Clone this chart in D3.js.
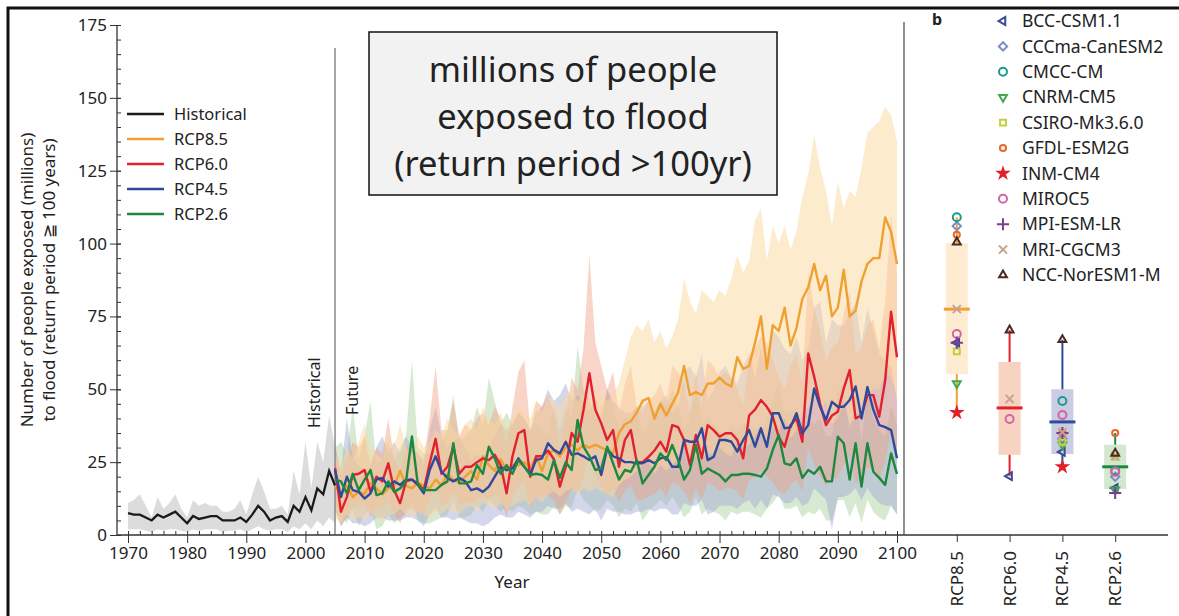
<!DOCTYPE html>
<html lang="en">
<head>
  <meta charset="UTF-8">
  <title>Flood exposure</title>
  <script src="https://d3js.org/d3.v7.min.js"></script>
  <style>
    body { margin: 0; background: #fff; }
    svg { display: block; }
    text { font-family: "Noto Sans", sans-serif; fill: #222; }
  </style>
</head>
<body>
  <div id="container"></div>
  <script>
    // ---- data ----
    var histYears = d3.range(1970, 2006);
    var histMean = [7.5, 7, 7, 6, 5, 7, 6, 7, 8, 6, 4, 6.5, 5.5, 6, 6.5, 6.5, 5, 5, 5, 6, 4.5, 7, 10, 8, 5, 6, 6.5, 4.5, 10, 8, 13, 8.5, 16, 14, 22, 17];
    var histHi = [11, 12, 14, 10, 6, 13, 9, 11, 14, 9, 6, 12, 10, 11, 10, 10, 8, 8, 9, 12, 7, 14, 20, 15, 9, 9, 10, 7, 22, 14, 32, 16, 32, 25, 41, 30];
    var histLo = [2, 2, 2, 1.5, 1, 2, 1.5, 2, 2, 1.5, 1, 2, 1.5, 2, 2, 2, 1, 1.5, 1.5, 2, 1, 2, 3, 2, 1.5, 2, 2, 1, 3, 2, 4, 2, 5, 3, 6, 4];

    var futYears = d3.range(2005, 2101);

    var rcp85 = [17, 14, 17, 13, 15, 14, 18, 16, 14, 16, 17, 22, 17, 16, 18, 17, 16, 19, 17, 21, 19, 18, 20, 22, 19, 27, 24, 22, 26, 22,
      24, 24, 25, 23, 27, 22, 28, 29, 27, 30, 31, 29, 31, 30, 31, 30, 29, 28, 35, 38, 39, 42, 46, 47, 40, 45, 41, 45, 49, 58,
      48, 49, 48, 52, 52, 54, 52, 51, 61, 57, 58, 66, 75, 57, 72, 70, 78, 65, 71, 81, 85, 93, 84, 89, 75, 78, 91, 75, 77, 87,
      93, 95, 95, 109, 104, 93];
    var rcp85Hi = [28, 24, 30, 26, 32, 38, 30, 28, 26, 34, 30, 38, 30, 28, 34, 30, 32, 36, 34, 40, 36, 34, 38, 40, 36, 44, 40, 38, 42, 36,
      40, 44, 42, 40, 46, 42, 48, 46, 44, 48, 50, 46, 48, 46, 50, 48, 46, 48, 52, 60, 68, 72, 70, 74, 66, 70, 64, 68, 74, 88,
      80, 76, 84, 82, 80, 84, 82, 88, 96, 90, 94, 108, 112, 94, 106, 100, 106, 98, 104, 116, 124, 137, 126, 118, 106, 121, 112, 118, 116, 126,
      138, 140, 142, 147, 144, 135];
    var rcp85Lo = [6, 4, 7, 5, 6, 5, 8, 6, 5, 7, 7, 9, 7, 6, 8, 7, 6, 8, 7, 9, 8, 7, 9, 10, 8, 11, 10, 9, 11, 9,
      10, 11, 12, 10, 13, 11, 14, 15, 13, 15, 16, 14, 16, 15, 16, 15, 14, 13, 17, 19, 20, 22, 24, 25, 21, 24, 22, 24, 26, 30,
      26, 27, 26, 28, 28, 30, 28, 27, 32, 30, 31, 34, 38, 30, 37, 36, 40, 33, 36, 42, 44, 48, 43, 46, 38, 40, 46, 38, 40, 45,
      48, 50, 50, 56, 54, 48];

    var rcp60 = [23, 8, 13, 20.6, 21, 22.3, 14.8, 20, 18.4, 24.6, 15.4, 10.9, 18.4, 19, 17.7, 15.4, 24.6, 33, 21, 23.4, 30.3, 21, 23.4, 23.4, 25, 26.3, 25.7, 27.5, 24, 14.3,
      27, 34.9, 36, 20, 27, 27, 29, 26, 16.6, 23.4, 35, 32, 42.9, 55.5, 43, 38.3, 32.6, 36, 23.4, 32.6, 36, 25, 25, 26.8, 29, 32, 28.6, 37.7, 37, 32.6,
      24, 34.3, 26.3, 37.7, 36, 33.7, 34.9, 34.9, 32.6, 26.3, 41, 43, 46.3, 44, 40.6, 33.7, 30.3, 37.7, 40, 32, 62.3, 54.3, 45, 37.7, 41, 42.3, 50.3, 56.6, 40, 41,
      48, 48, 40.6, 53, 76.6, 61];
    var rcp60Hi = [32, 20, 26, 32, 30, 34, 24, 30, 28, 40, 26, 22, 30, 30, 28, 26, 40, 58, 36, 36, 46, 34, 38, 36, 40, 42, 38, 44, 40, 30,
      44, 56, 60, 36, 46, 44, 48, 42, 30, 40, 54, 50, 64, 96, 66, 58, 50, 56, 42, 52, 58, 44, 42, 46, 48, 52, 46, 58, 56, 52,
      42, 56, 44, 60, 58, 54, 56, 54, 50, 44, 62, 64, 68, 66, 60, 54, 50, 58, 62, 52, 90, 78, 70, 60, 64, 66, 76, 84, 62, 64,
      72, 74, 64, 80, 110, 90];
    var rcp60Lo = [10, 3, 6, 10, 10, 11, 6, 10, 9, 12, 7, 4, 9, 9, 8, 7, 12, 16, 10, 11, 15, 10, 11, 11, 12, 13, 12, 14, 12, 6,
      13, 17, 18, 9, 13, 13, 14, 12, 7, 11, 16, 14, 20, 28, 20, 17, 14, 16, 11, 15, 17, 12, 12, 13, 14, 16, 13, 18, 17, 15,
      11, 16, 12, 18, 17, 15, 16, 16, 15, 12, 19, 20, 22, 20, 18, 15, 14, 17, 19, 15, 30, 24, 20, 17, 19, 20, 24, 27, 18, 19,
      23, 23, 19, 25, 36, 28];

    var rcp45 = [22.3, 13, 20, 15.4, 14.8, 12.5, 14.3, 19, 19.6, 16.6, 18.4, 17.2, 19, 19, 17.2, 14.3, 22.3, 27, 21.7, 19.6, 18.4, 19.6, 18.4, 15.4, 16, 14.8, 16.6, 20, 23.4, 22.3,
      22.8, 26.3, 23.4, 21, 25.7, 26.3, 31.5, 29.2, 28, 32, 27.5, 28, 27, 25.7, 27, 20.6, 29.7, 27, 26.3, 25, 25, 24.6, 24.6, 25.7, 24.6, 26.3, 26.8, 23.4, 23.4, 32.6,
      32, 32, 36.6, 25.7, 26.8, 32.6, 32.6, 32, 28.6, 32.6, 36, 30.3, 36.6, 30.3, 41.8, 41.8, 36.6, 37, 41.8, 34.9, 37.7, 50.3, 44, 39.5, 45.7, 44, 44, 46.3, 51, 40,
      50.8, 43, 37.7, 37, 36, 26.3];
    var rcp45Hi = [30, 22, 40, 26, 24, 22, 24, 30, 34, 28, 32, 28, 34, 30, 28, 24, 36, 44, 34, 30, 32, 34, 30, 26, 28, 26, 30, 34, 38, 36,
      38, 42, 40, 36, 42, 44, 50, 46, 48, 52, 46, 48, 46, 42, 48, 38, 50, 46, 44, 42, 42, 44, 44, 46, 42, 46, 48, 42, 44, 56,
      58, 54, 62, 46, 50, 56, 58, 54, 52, 58, 62, 54, 64, 56, 70, 68, 64, 62, 68, 60, 64, 78, 80, 66, 74, 72, 72, 76, 80, 66,
      78, 70, 62, 60, 58, 46];
    var rcp45Lo = [8, 3, 6, 4, 4, 3, 4, 6, 6, 5, 5, 5, 6, 6, 5, 3, 7, 9, 6, 6, 5, 6, 5, 4, 4, 3, 4, 6, 7, 6,
      6, 8, 7, 6, 8, 8, 10, 9, 9, 11, 8, 9, 8, 7, 9, 5, 9, 8, 8, 7, 7, 8, 8, 9, 8, 9, 9, 7, 7, 11,
      10, 10, 12, 7, 8, 10, 10, 10, 9, 11, 12, 9, 12, 9, 14, 13, 11, 11, 13, 10, 11, 16, 14, 12, 2, 13, 13, 14, 16, 12,
      16, 13, 11, 10, 10, 7];

    var rcp26 = [19, 18.4, 14.3, 21, 15.4, 19, 22.3, 13.7, 14.3, 18.4, 14.8, 16, 18.4, 33.8, 17.2, 15.4, 15.4, 15.4, 17.2, 18.4, 31.5, 17.7, 17.7, 18.4, 24, 21, 30.3, 26.3, 21, 24,
      21, 25.7, 23.4, 20.6, 21, 20.6, 19, 25.7, 19.6, 25, 22.3, 39.5, 30.3, 27, 22.3, 22.8, 30.3, 24.6, 19, 22.3, 21.7, 25.7, 17.7, 20.6, 23.4, 28, 25.7, 30.9, 25.7, 19,
      22.3, 30.9, 21, 22.8, 21.7, 20.6, 18.4, 20.6, 20.6, 21, 21, 20.6, 20, 22.8, 29.2, 34.3, 24.6, 24, 26.3, 19.6, 22.3, 21, 23.4, 18.4, 18.4, 33.7, 31.5, 19, 31.5, 16.6,
      31.5, 21.7, 19.6, 17.2, 28, 21];
    var rcp26Hi = [30, 32, 28, 44, 26, 34, 46, 24, 26, 32, 26, 30, 34, 60, 30, 28, 28, 30, 32, 36, 48, 32, 34, 36, 44, 38, 54, 46, 38, 42,
      38, 42, 40, 36, 38, 36, 34, 44, 36, 44, 40, 65, 50, 46, 40, 42, 50, 44, 36, 40, 40, 44, 34, 38, 42, 46, 44, 50, 44, 36,
      40, 50, 38, 40, 38, 36, 34, 38, 36, 38, 38, 36, 36, 40, 46, 52, 42, 42, 44, 36, 40, 38, 40, 34, 34, 50, 50, 36, 48, 32,
      50, 40, 36, 34, 44, 38];
    var rcp26Lo = [8, 6, 4, 9, 3, 7, 9, 2, 3, 7, 4, 6, 7, 12, 5, 4, 4, 5, 6, 7, 12, 6, 6, 7, 10, 8, 12, 10, 8, 10,
      8, 10, 9, 7, 8, 7, 7, 10, 7, 10, 9, 16, 12, 10, 8, 9, 12, 10, 6, 9, 8, 11, 5, 8, 10, 12, 10, 13, 10, 6,
      8, 13, 7, 9, 8, 7, 5, 8, 7, 8, 8, 7, 6, 9, 11, 14, 9, 9, 10, 6, 8, 7, 9, 5, 5, 12, 12, 6, 11, 4,
      12, 8, 6, 5, 10, 7];

    var yTicks = [0, 25, 50, 75, 100, 125, 150, 175];
    var xTicks = d3.range(1970, 2101, 10);

    // panel b: per scenario summary
    var scenarios = ["RCP8.5", "RCP6.0", "RCP4.5", "RCP2.6"];
    var boxMin = [42, 20.2, 23.4, 14.4];
    var boxQ1 = [55.2, 27.5, 27.8, 15.8];
    var boxMed = [77.5, 43.6, 38.8, 23.4];
    var boxQ3 = [100.2, 59.4, 50, 31];
    var boxMax = [109, 70.3, 67, 35];

    var models = ["BCC-CSM1.1", "CCCma-CanESM2", "CMCC-CM", "CNRM-CM5", "CSIRO-Mk3.6.0", "GFDL-ESM2G",
      "INM-CM4", "MIROC5", "MPI-ESM-LR", "MRI-CGCM3", "NCC-NorESM1-M"];
    // value per model for [RCP8.5, RCP6.0, RCP4.5, RCP2.6]
    var modelValues = [
      [66, 20.2, 28.5, 16.1],
      [106, null, 33, 20],
      [109, null, 46, 22],
      [52, null, 31, 15.5],
      [63, null, 32, 26.8],
      [103, null, 35, 35],
      [42, null, 23.4, null],
      [69, 39.8, 41.2, 21.6],
      [66, null, 35, 14.4],
      [77.5, 46.7, 35.3, 27],
      [100.5, 70.3, 67, 28]
    ];

    // ---- styles ----
    var scenColor = { "RCP8.5": "#f0a030", "RCP6.0": "#e3202e", "RCP4.5": "#2f4a9c", "RCP2.6": "#1e8740" };
    var bandColor = { "RCP8.5": "#fcd79e", "RCP6.0": "#f0a184", "RCP4.5": "#a0a6d2", "RCP2.6": "#a9cf9c" };
    var boxFill = { "RCP8.5": "#fdebd2", "RCP6.0": "#f8d3c2", "RCP4.5": "#c9cce2", "RCP2.6": "#d4e8cf" };
    var modelColor = ["#3b4a98", "#7b8fc6", "#1b998b", "#3daa4c", "#c2cf3e", "#e8692e", "#e02028",
      "#d463a6", "#7b3c91", "#c4a592", "#4a2a22"];

    var svg = d3.select("#container").append("svg")
      .attr("width", 1179).attr("height", 616);

    // outer frame
    svg.append("path")
      .attr("d", "M8,616V8H1179")
      .attr("fill", "none").attr("stroke", "#111").attr("stroke-width", 3);

    var x = d3.scaleLinear().domain([1970, 2100]).range([128, 897]);
    var y = d3.scaleLinear().domain([0, 175]).range([535, 25]);

    var series = [
      { name: "RCP2.6", mean: rcp26, hi: rcp26Hi, lo: rcp26Lo },
      { name: "RCP4.5", mean: rcp45, hi: rcp45Hi, lo: rcp45Lo },
      { name: "RCP6.0", mean: rcp60, hi: rcp60Hi, lo: rcp60Lo },
      { name: "RCP8.5", mean: rcp85, hi: rcp85Hi, lo: rcp85Lo }
    ];

    var area = d3.area()
      .x(function (d) { return x(d.year); })
      .y0(function (d) { return y(d.lo); })
      .y1(function (d) { return y(d.hi); });
    var line = d3.line()
      .x(function (d) { return x(d.year); })
      .y(function (d) { return y(d.v); });

    // historical band
    var histPts = histYears.map(function (yr, i) { return { year: yr, v: histMean[i], hi: histHi[i], lo: histLo[i] }; });
    svg.append("path").attr("d", area(histPts)).attr("fill", "#dcdcdc");

    // future bands
    series.forEach(function (s) {
      s.pts = futYears.map(function (yr, i) { return { year: yr, v: s.mean[i], hi: s.hi[i], lo: s.lo[i] }; });
      svg.append("path").attr("d", area(s.pts))
        .attr("fill", bandColor[s.name])
        .attr("fill-opacity", s.name == "RCP8.5" ? 0.5 : 0.45);
    });

    // divider at 2005
    svg.append("line")
      .attr("x1", x(2005)).attr("x2", x(2005))
      .attr("y1", 48).attr("y2", 535)
      .attr("stroke", "#8a8a8a").attr("stroke-width", 1.5);

    // lines
    svg.append("path").attr("d", line(histPts))
      .attr("fill", "none").attr("stroke", "#1a1a1a").attr("stroke-width", 2.3);
    ["RCP8.5", "RCP6.0", "RCP4.5", "RCP2.6"].forEach(function (n) {
      var s = series.find(function (d) { return d.name == n; });
      svg.append("path").attr("d", line(s.pts))
        .attr("fill", "none").attr("stroke", scenColor[n])
        .attr("stroke-width", 2.4).attr("stroke-linejoin", "round");
    });

    // y axis
    var yAxis = svg.append("g").attr("transform", "translate(117,0)")
      .call(d3.axisLeft(y).tickValues(yTicks).tickSize(7).tickPadding(3));
    yAxis.select(".domain").remove();
    yAxis.selectAll(".tick line").attr("x1", 4).attr("stroke", "#333");
    yAxis.selectAll("text").attr("font-size", 17).attr("font-family", "Noto Sans").attr("fill", "#222");
    var yMinor = svg.append("g").attr("transform", "translate(117,0)")
      .call(d3.axisRight(y).tickValues(d3.range(0, 176, 5)).tickSize(4).tickFormat(""));
    yMinor.select(".domain").remove();
    yMinor.selectAll(".tick line").attr("stroke", "#333");
    svg.append("line").attr("x1", 117).attr("x2", 117).attr("y1", 25).attr("y2", 535)
      .attr("stroke", "#333").attr("stroke-width", 1.3);

    // x axis
    var xAxis = svg.append("g").attr("transform", "translate(0,535)")
      .call(d3.axisBottom(x).tickValues(xTicks).tickSize(8).tickPadding(4).tickFormat(d3.format("d")));
    xAxis.select(".domain").remove();
    xAxis.selectAll(".tick line").attr("stroke", "#333");
    xAxis.selectAll("text").attr("font-size", 17).attr("font-family", "Noto Sans").attr("fill", "#222");
    var xMinor = svg.append("g").attr("transform", "translate(0,535)")
      .call(d3.axisTop(x).tickValues(d3.range(1970, 2101, 2)).tickSize(4).tickFormat(""));
    xMinor.select(".domain").remove();
    xMinor.selectAll(".tick line").attr("stroke", "#333");
    svg.append("line").attr("x1", 117).attr("x2", 1168).attr("y1", 535).attr("y2", 535)
      .attr("stroke", "#333").attr("stroke-width", 1.3);

    svg.append("text").attr("x", 512).attr("y", 588)
      .attr("text-anchor", "middle").attr("font-size", 17).text("Year");

    // y label
    var yl = svg.append("text").attr("transform", "translate(33,280) rotate(-90)")
      .attr("text-anchor", "middle").attr("font-size", 17);
    yl.append("tspan").attr("x", 0).attr("dy", 0).text("Number of people exposed (millions)");
    yl.append("tspan").attr("x", 0).attr("dy", 22).text("to flood (return period \u2267 100 years)");

    // period labels
    svg.append("text").attr("transform", "translate(320,428) rotate(-90)")
      .attr("font-size", 16).text("Historical");
    svg.append("text").attr("transform", "translate(358,415) rotate(-90)")
      .attr("font-size", 16).text("Future");

    // legend (panel a)
    var legItems = [["Historical", "#1a1a1a"]].concat(["RCP8.5", "RCP6.0", "RCP4.5", "RCP2.6"].map(function (n) { return [n, scenColor[n]]; }));
    var leg = svg.append("g");
    legItems.forEach(function (d, i) {
      var yy = 114 + i * 25;
      leg.append("line").attr("x1", 127).attr("x2", 164).attr("y1", yy).attr("y2", yy)
        .attr("stroke", d[1]).attr("stroke-width", 2.3);
      leg.append("text").attr("x", 174).attr("y", yy).attr("dy", "0.35em")
        .attr("font-size", 16.5).text(d[0]);
    });

    // title box
    svg.append("rect").attr("x", 369).attr("y", 32).attr("width", 408).attr("height", 163)
      .attr("fill", "#f2f2f2").attr("stroke", "#111").attr("stroke-width", 1.5);
    var tt = svg.append("text").attr("text-anchor", "middle")
      .attr("font-family", "Lato").attr("font-size", 34.5).attr("fill", "#111");
    ["millions of people", "exposed to flood", "(return period >100yr)"].forEach(function (s, i) {
      tt.append("tspan").attr("x", 573).attr("y", 82 + i * 47).text(s);
    });

    // ---- panel b ----
    svg.append("line").attr("x1", 904).attr("x2", 904).attr("y1", 22).attr("y2", 535)
      .attr("stroke", "#555").attr("stroke-width", 1.3);
    svg.append("text").attr("x", 932).attr("y", 25).attr("font-size", 16)
      .attr("font-weight", "bold").attr("font-family", "DejaVu Sans").text("b");

    var xr = d3.scalePoint().domain(scenarios).range([904, 1168]).padding(1);

    var xrAxis = svg.append("g").attr("transform", "translate(0,535)")
      .call(d3.axisBottom(xr).tickSize(7).tickFormat(""));
    xrAxis.select(".domain").remove();
    xrAxis.selectAll(".tick line").attr("stroke", "#333");
    scenarios.forEach(function (s) {
      svg.append("text").attr("transform", "translate(" + xr(s) + ",551) rotate(-90)")
        .attr("text-anchor", "end").attr("dy", "0.35em").attr("font-size", 17).text(s);
    });

    var boxW = 22;
    scenarios.forEach(function (s, i) {
      var cx = xr(s);
      svg.append("rect").attr("x", cx - boxW / 2).attr("width", boxW)
        .attr("y", y(boxQ3[i])).attr("height", y(boxQ1[i]) - y(boxQ3[i]))
        .attr("fill", boxFill[s]);
      svg.append("line").attr("x1", cx).attr("x2", cx)
        .attr("y1", y(boxMax[i])).attr("y2", y(boxQ3[i]))
        .attr("stroke", scenColor[s]).attr("stroke-width", 2);
      svg.append("line").attr("x1", cx).attr("x2", cx)
        .attr("y1", y(boxQ1[i])).attr("y2", y(boxMin[i]))
        .attr("stroke", scenColor[s]).attr("stroke-width", 2);
      svg.append("line").attr("x1", cx - 13).attr("x2", cx + 13)
        .attr("y1", y(boxMed[i])).attr("y2", y(boxMed[i]))
        .attr("stroke", scenColor[s]).attr("stroke-width", 3);
    });

    // model markers
    var shapes = [
      { type: d3.symbolTriangle2, rot: -90, size: 44 },
      { type: d3.symbolDiamond2, rot: 0, size: 44 },
      { type: d3.symbolCircle, rot: 0, size: 50 },
      { type: d3.symbolTriangle2, rot: 180, size: 44 },
      { type: d3.symbolSquare2, rot: 0, size: 44 },
      { type: d3.symbolCircle, rot: 0, size: 30 },
      { type: d3.symbolStar, rot: 0, size: 28, fill: true },
      { type: d3.symbolCircle, rot: 0, size: 50 },
      { type: d3.symbolPlus, rot: 0, size: 50 },
      { type: d3.symbolTimes, rot: 0, size: 44 },
      { type: d3.symbolTriangle2, rot: 0, size: 44 }
    ];
    function marker(g, m, px, py) {
      var sh = shapes[m];
      g.append("path")
        .attr("d", d3.symbol().type(sh.type).size(sh.size)())
        .attr("transform", "translate(" + px + "," + py + ") rotate(" + sh.rot + ")")
        .attr("fill", sh.fill ? modelColor[m] : "none")
        .attr("stroke", modelColor[m]).attr("stroke-width", 2);
    }
    var mk = svg.append("g");
    models.forEach(function (name, m) {
      scenarios.forEach(function (s, i) {
        var v = modelValues[m][i];
        if (v != null) marker(mk, m, xr(s), y(v));
      });
    });

    // model legend
    models.forEach(function (name, m) {
      var yy = 21 + m * 25.4;
      marker(svg, m, 1003, yy);
      svg.append("text").attr("x", 1022).attr("y", yy).attr("dy", "0.35em")
        .attr("font-size", 17.5).attr("fill", modelColor[m]).text(name);
    });

    // next panel's top tick label, cut by the window as in the source
    svg.append("text").attr("x", 105).attr("y", 628).attr("text-anchor", "end")
      .attr("font-size", 17).text("175");
  </script>
</body>
</html>
